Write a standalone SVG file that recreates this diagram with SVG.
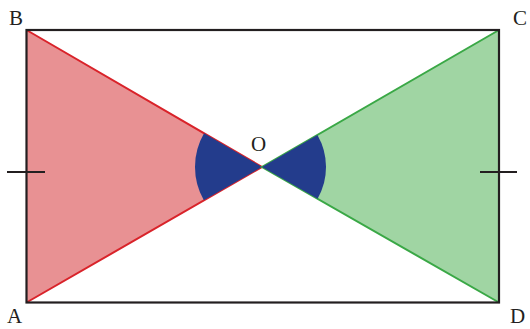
<svg xmlns="http://www.w3.org/2000/svg" width="530" height="329" viewBox="0 0 530 329">
<style>
.lbl{font-family:"Liberation Serif","DejaVu Serif",serif;font-size:21px;fill:#231f20}
.edge{stroke:#231f20;stroke-width:2.2;fill:none}
</style>
<rect width="530" height="329" fill="#fff"/>
<g id="red-triangle">
<polygon points="26.5,30 26.5,302.5 262,167" fill="#e89193"/>
<polyline points="26.5,30 262,167 26.5,302.5" fill="none" stroke="#d9232a" stroke-width="2"/>
<path d="M262,167 L204.06,133.37 A67,67 0 0 0 203.84,200.27 Z" fill="#233c8c"/>
</g>
<g id="green-triangle">
<polygon points="499,30 499,302.5 262,167" fill="#a0d5a3"/>
<polyline points="499,30 262,167 499,302.5" fill="none" stroke="#3aa846" stroke-width="2"/>
<path d="M262,167 L317.42,134.97 A64,64 0 0 1 317.61,198.68 Z" fill="#233c8c"/>
</g>
<g id="connectors">
<rect x="26.5" y="30" width="472.5" height="272.5" class="edge"/>
<line x1="7" y1="172" x2="45" y2="172" class="edge"/>
<line x1="480" y1="172" x2="517" y2="172" class="edge"/>
</g>
<g id="B"><text class="lbl" x="9" y="25">B</text></g>
<g id="C"><text class="lbl" x="513" y="25">C</text></g>
<g id="A"><text class="lbl" x="7" y="323">A</text></g>
<g id="D"><text class="lbl" x="510" y="323">D</text></g>
<g id="O"><text class="lbl" x="251" y="151">O</text></g>
</svg>
